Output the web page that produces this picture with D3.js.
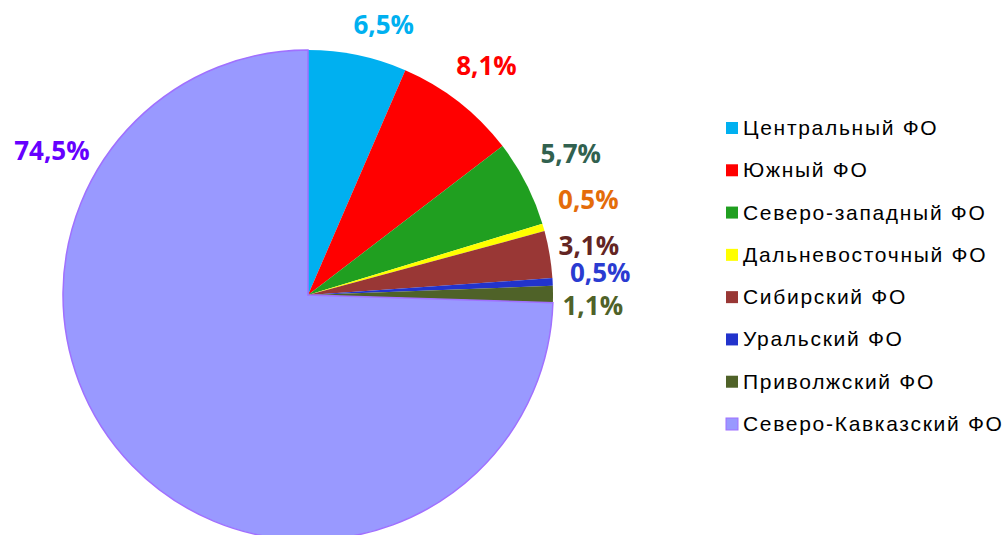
<!DOCTYPE html>
<html>
<head>
<meta charset="utf-8">
<script src="https://cdn.jsdelivr.net/npm/d3@7"></script>
<style>
  body { margin: 0; background: #fff; }
</style>
</head>
<body>
<div id="chart"></div>
<script>
// данные
var regions = ["Центральный ФО", "Южный ФО", "Северо-западный ФО", "Дальневосточный ФО",
               "Сибирский ФО", "Уральский ФО", "Приволжский ФО", "Северо-Кавказский ФО"];
var shares = [6.5, 8.1, 5.7, 0.5, 3.1, 0.5, 1.1, 74.5];
var sliceColors = ["#00b0f0", "#ff0000", "#209f20", "#ffff00", "#993735", "#2233cc", "#4f6228", "#9999ff"];
var labelColors = ["#00b0f0", "#ff0000", "#31614f", "#e46c0a", "#632523", "#2a3bd1", "#4f6228", "#6600ff"];

// размещение подписей: сдвиг по углу (градусы) и расстояние от центра
var labelShift = [4.0, 0, -1, -2.7, -0.3, -1.2, 2.4, 73.5];
var labelDist = [280, 290, 298, 296, 285, 293, 285, 294];

var width = 1005, height = 535;
var cx = 308, cy = 295, radius = 245;

var svg = d3.select("#chart")
            .append("svg")
            .attr("width", width)
            .attr("height", height);

var g = svg.append("g")
           .attr("transform", "translate(" + cx + "," + cy + ")");

var pie = d3.pie().sort(null).value(function(d) { return d; });
var arc = d3.arc().innerRadius(0).outerRadius(radius);
var arcs = pie(shares);

g.selectAll("path")
 .data(arcs)
 .enter()
 .append("path")
 .attr("d", arc)
 .attr("fill", function(d, i) { return sliceColors[i]; })
 .attr("stroke", function(d, i) { return i === 7 ? "#a070ff" : "none"; })
 .attr("stroke-width", 1.5);

// подписи процентов
function labelPos(d, i) {
    var a = (d.startAngle + d.endAngle) / 2 + labelShift[i] * Math.PI / 180;
    return [labelDist[i] * Math.sin(a), -labelDist[i] * Math.cos(a)];
}

g.selectAll("text.lbl")
 .data(arcs)
 .enter()
 .append("text")
 .attr("class", "lbl")
 .attr("x", function(d, i) { return labelPos(d, i)[0]; })
 .attr("y", function(d, i) { return labelPos(d, i)[1] + 9; })
 .attr("text-anchor", "middle")
 .attr("fill", function(d, i) { return labelColors[i]; })
 .style("font-family", "'Open Sans', sans-serif")
 .style("font-weight", "bold")
 .style("font-size", "26px")
 .text(function(d, i) { return shares[i].toFixed(1).replace(".", ",") + "%"; });

// легенда
var legendY = d3.scalePoint().domain(regions).range([128, 424]);

var items = svg.append("g")
               .selectAll("g")
               .data(regions)
               .enter()
               .append("g")
               .attr("transform", function(d) { return "translate(726," + legendY(d) + ")"; });

items.append("rect")
     .attr("x", 0)
     .attr("y", -6)
     .attr("width", 12)
     .attr("height", 12)
     .attr("fill", function(d, i) { return sliceColors[i]; })
     .attr("stroke", function(d, i) { return i === 7 ? "#a070ff" : "none"; });

items.append("text")
     .attr("x", 17)
     .attr("y", 7)
     .style("font-family", "'Liberation Sans', Arial, sans-serif")
     .style("font-size", "21px")
     .style("letter-spacing", "1.7px")
     .attr("fill", "#000")
     .text(function(d) { return d; });
</script>
</body>
</html>
